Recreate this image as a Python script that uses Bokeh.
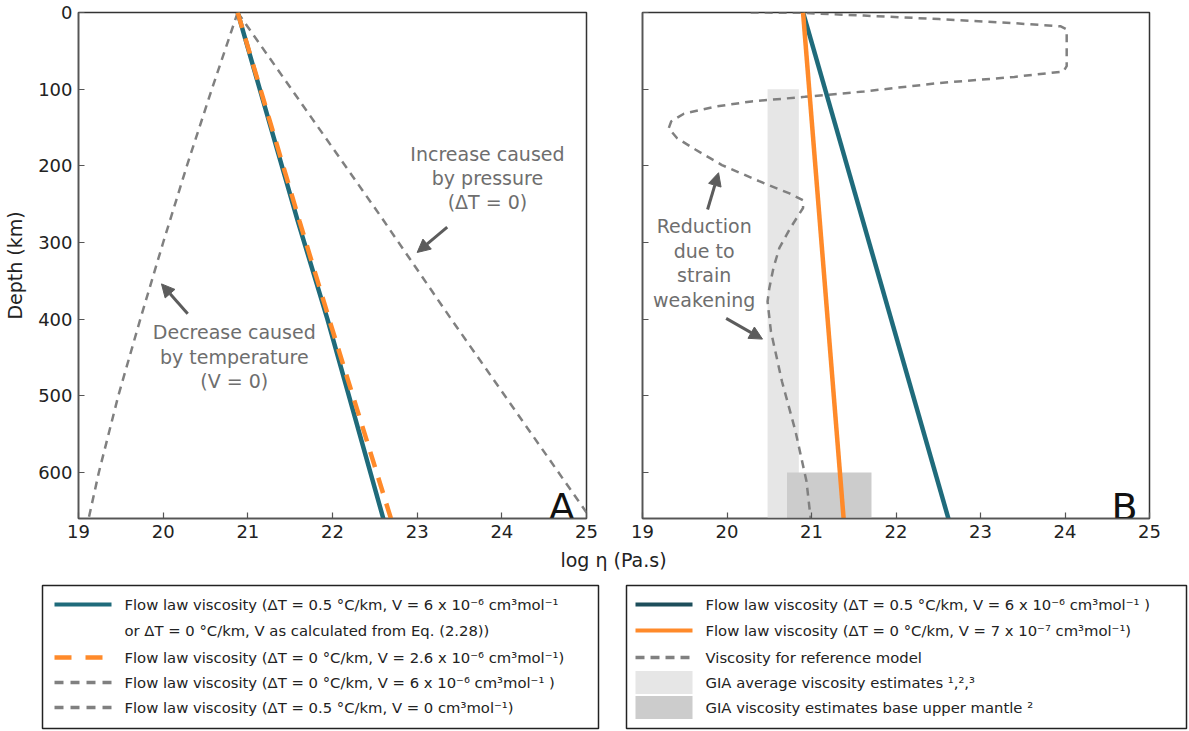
from bokeh.plotting import figure
from bokeh.models import Range1d, FixedTicker, Arrow, NormalHead
from bokeh.layouts import column, row
from bokeh.core.properties import value
from bokeh.embed import file_html
from bokeh.resources import INLINE

# ---------------- data ----------------
x_ticks = [19, 20, 21, 22, 23, 24, 25]
depth_ticks = [0, 100, 200, 300, 400, 500, 600]

# Panel A
a_flow_depth = [0, 272, 400, 660]
a_flow_logeta = [20.88, 21.59, 21.94, 22.60]
a_v26_depth = [0, 272, 400, 660]
a_v26_logeta = [20.88, 21.61, 21.96, 22.69]
a_press_depth = [0, 266, 398, 660]
a_press_logeta = [20.88, 22.57, 23.39, 25.05]
a_temp_depth = [0, 100, 200, 300, 400, 500, 600, 660]
a_temp_logeta = [20.88, 20.575, 20.28, 20.00, 19.73, 19.47, 19.24, 19.12]

# Panel B
b_flow_depth = [0, 660]
b_flow_logeta = [20.90, 22.62]
b_v07_depth = [0, 660]
b_v07_logeta = [20.90, 21.38]
b_ref_depth = [0, 0.5, 4, 8.6, 14, 18, 22, 70, 77, 84, 92, 103, 110, 116, 123, 132, 142, 151,
               164, 179, 199, 220, 236, 245, 255, 281, 307, 333, 360, 377, 416, 481, 546, 611, 660]
b_ref_logeta = [20.28, 20.90, 21.62, 22.51, 23.40, 23.95, 24.02, 24.02, 23.98, 23.40, 22.51, 21.62,
                20.92, 20.29, 19.85, 19.49, 19.34, 19.31, 19.41, 19.63, 19.94, 20.38, 20.74, 20.90,
                20.90, 20.75, 20.62, 20.55, 20.50, 20.48, 20.52, 20.65, 20.81, 20.94, 20.99]
gia_avg_logeta = [20.48, 20.85]
gia_avg_depth = [100, 660]
gia_base_logeta = [20.71, 21.71]
gia_base_depth = [600, 660]

legend_a_labels = [
    "Flow law viscosity (ΔT = 0.5 °C/km, V = 6 x 10⁻⁶ cm³mol⁻¹",
    " or ΔT = 0 °C/km, V as calculated from Eq. (2.28))",
    "Flow law viscosity (ΔT = 0 °C/km, V = 2.6 x 10⁻⁶ cm³mol⁻¹)",
    "Flow law viscosity (ΔT = 0 °C/km, V = 6 x 10⁻⁶ cm³mol⁻¹ )",
    "Flow law viscosity (ΔT = 0.5 °C/km, V = 0 cm³mol⁻¹)",
]
legend_b_labels = [
    "Flow law viscosity (ΔT = 0.5 °C/km, V = 6 x 10⁻⁶ cm³mol⁻¹ )",
    "Flow law viscosity (ΔT = 0 °C/km, V = 7 x 10⁻⁷ cm³mol⁻¹)",
    "Viscosity for reference model",
    "GIA average viscosity estimates ¹,²,³",
    "GIA viscosity estimates base upper mantle ²",
]

# ---------------- style ----------------
FONT = "DejaVu Sans"
TEAL = "#1f6b7b"
TEAL_DARK = "#1d4e5b"
ORANGE = "#ff8a2a"
GRAY = "#808080"
ANN = "#6e6e6e"
ARROW = "#5c5c5c"
LIGHT = "#e6e6e6"
DARK = "#cccccc"


def make_panel(width, bl, br, show_labels):
    p = figure(width=width, height=548, x_range=Range1d(19, 25), y_range=Range1d(660, 0),
               toolbar_location=None, output_backend="svg",
               min_border_left=bl, min_border_right=br, min_border_top=12, min_border_bottom=30)
    p.grid.visible = False
    p.outline_line_color = "#333333"
    p.outline_line_width = 1.5
    p.xaxis.ticker = FixedTicker(ticks=x_ticks)
    p.yaxis.ticker = FixedTicker(ticks=depth_ticks)
    for ax in p.axis:
        ax.axis_line_color = "#555555"
        ax.axis_line_width = 1.5
        ax.major_tick_in = 6
        ax.major_tick_out = 0
        ax.major_tick_line_color = "#555555"
        ax.major_tick_line_width = 1.2
        ax.minor_tick_line_color = None
        ax.major_label_text_font = FONT
        ax.major_label_text_font_size = "18px"
        ax.major_label_text_color = "#222222"
        ax.major_label_standoff = 6
        ax.axis_label_text_font = FONT
        ax.axis_label_text_font_size = "19px"
        ax.axis_label_text_font_style = "normal"
        ax.axis_label_text_color = "#222222"
    if show_labels:
        p.yaxis.axis_label = "Depth (km)"
        p.yaxis.axis_label_standoff = 9
    else:
        p.yaxis.major_label_overrides = {t: "" for t in depth_ticks}
    return p


def ann(p, x, ys, lines, size="19px"):
    p.text(x=[x] * len(lines), y=ys, text=lines, text_font=value(FONT), text_font_size=size,
           text_color=ANN, text_align="center", text_baseline="middle")


def arrow(p, xs, ys, xe, ye):
    p.add_layout(Arrow(end=NormalHead(size=13, fill_color=ARROW, line_color=ARROW, line_width=1),
                       x_start=xs, y_start=ys, x_end=xe, y_end=ye,
                       line_color=ARROW, line_width=3))


# ---------------- Panel A ----------------
pA = make_panel(614, 78, 28, True)
pA.line(a_temp_logeta, a_temp_depth, line_color=GRAY, line_width=2.5, line_dash="8 6")
pA.line(a_press_logeta, a_press_depth, line_color=GRAY, line_width=2.5, line_dash="8 6")
pA.line(a_flow_logeta, a_flow_depth, line_color=TEAL, line_width=4.5)
pA.line(a_v26_logeta, a_v26_depth, line_color=ORANGE, line_width=4.5, line_dash="16 11")
ann(pA, 23.83, [185, 216, 247], ["Increase caused", "by pressure", "(ΔT = 0)"])
ann(pA, 20.84, [417, 449, 481], ["Decrease caused", "by temperature", "(V = 0)"])
arrow(pA, 23.355, 280, 23.0, 313)
arrow(pA, 20.29, 393, 19.98, 354)
pA.text(x=[24.86], y=[645], text=["A"], text_font=value(FONT), text_font_size="38px",
        text_color="#111111", text_align="right", text_baseline="alphabetic")

# ---------------- Panel B ----------------
pB = make_panel(575, 28, 40, False)
pB.quad(left=[gia_avg_logeta[0]], right=[gia_avg_logeta[1]], top=[gia_avg_depth[0]],
        bottom=[gia_avg_depth[1]], fill_color=LIGHT, line_color=None)
pB.quad(left=[gia_base_logeta[0]], right=[gia_base_logeta[1]], top=[gia_base_depth[0]],
        bottom=[gia_base_depth[1]], fill_color=DARK, line_color=None)
pB.line(b_ref_logeta, b_ref_depth, line_color=GRAY, line_width=2.5, line_dash="8 6")
pB.line(b_flow_logeta, b_flow_depth, line_color=TEAL, line_width=4.5)
pB.line(b_v07_logeta, b_v07_depth, line_color=ORANGE, line_width=4.5)
ann(pB, 19.73, [279, 311, 343, 375], ["Reduction", "due to", "strain", "weakening"])
arrow(pB, 19.77, 257, 19.90, 209)
arrow(pB, 19.99, 399, 20.42, 426)
pB.text(x=[24.86], y=[645], text=["B"], text_font=value(FONT), text_font_size="38px",
        text_color="#111111", text_align="right", text_baseline="alphabetic")

# ---------------- Legends / shared x label ----------------
LW, LH = 1189, 183
OY = 548  # page y of this figure's top
pL = figure(width=LW, height=LH, x_range=Range1d(0, LW), y_range=Range1d(LH, 0),
            toolbar_location=None, output_backend="svg", min_border=0,
            x_axis_location=None, y_axis_location=None)
pL.grid.visible = False
pL.outline_line_color = None

pL.text(x=[613], y=[559 - OY], text=["log η (Pa.s)"], text_font=value(FONT),
        text_font_size="19px", text_color="#222222", text_align="center", text_baseline="middle")

rows_y = [604 - OY, 630 - OY, 657 - OY, 682 - OY, 707 - OY]

# box outlines
pL.quad(left=[42, 626], right=[598, 1186], top=[585 - OY, 585 - OY],
        bottom=[728 - OY, 728 - OY], fill_color=None, line_color="#222222", line_width=1.5)

# legend A samples
ax0, ax1 = 54, 111
pL.line([ax0, ax1], [rows_y[0]] * 2, line_color=TEAL, line_width=4)
pL.line([ax0, ax1], [rows_y[2]] * 2, line_color=ORANGE, line_width=4.5, line_dash="17 14")
pL.line([ax0, ax1], [rows_y[3]] * 2, line_color=GRAY, line_width=3.5, line_dash="9 7")
pL.line([ax0, ax1], [rows_y[4]] * 2, line_color=GRAY, line_width=3.5, line_dash="9 7")
pL.text(x=[124] * len(legend_a_labels), y=rows_y, text=legend_a_labels, text_font=value(FONT),
        text_font_size="14.8px", text_color="#222222", text_align="left", text_baseline="middle")

# legend B samples
bx0, bx1 = 635, 692
pL.line([bx0, bx1], [rows_y[0]] * 2, line_color=TEAL_DARK, line_width=4)
pL.line([bx0, bx1], [rows_y[1]] * 2, line_color=ORANGE, line_width=4)
pL.line([bx0, bx1], [rows_y[2]] * 2, line_color=GRAY, line_width=3.5, line_dash="9 6")
pL.quad(left=[bx0], right=[bx1], top=[rows_y[3] - 11.5], bottom=[rows_y[3] + 11.5],
        fill_color=LIGHT, line_color=None)
pL.quad(left=[bx0], right=[bx1], top=[rows_y[4] - 11.5], bottom=[rows_y[4] + 11.5],
        fill_color=DARK, line_color=None)
pL.text(x=[705] * len(legend_b_labels), y=rows_y, text=legend_b_labels, text_font=value(FONT),
        text_font_size="14.8px", text_color="#222222", text_align="left", text_baseline="middle")

layout = column(row(pA, pB), pL)
open("out.html", "w").write(file_html(layout, INLINE))
